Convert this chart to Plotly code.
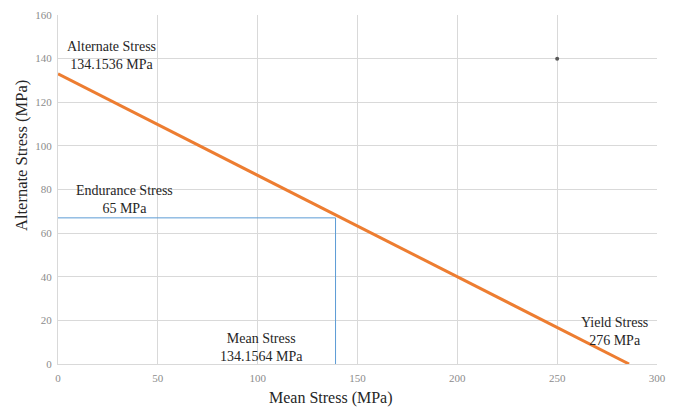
import plotly.graph_objects as go

# Data
goodman_x = [0, 286]
goodman_y = [133, 0]
endurance_x = [0, 139]
endurance_y = [67, 67]
mean_x = [139, 139]
mean_y = [0, 67]
point_x = [250]
point_y = [140]

x_ticks = [0, 50, 100, 150, 200, 250, 300]
y_ticks = [0, 20, 40, 60, 80, 100, 120, 140, 160]

annotations_text = [
    ("Alternate Stress<br>134.1536 MPa", 27, 141.5),
    ("Endurance Stress<br>65 MPa", 33.5, 75.5),
    ("Mean Stress<br>134.1564 MPa", 102, 7.5),
    ("Yield Stress<br>276 MPa", 278.5, 15),
]

serif = "Liberation Serif, Times New Roman, serif"

# page has an 8px body margin; size the figure to fit the window
OFF = 8
W, H = 676 - OFF, 410 - OFF
L, T = 58 - OFF, 15 - OFF
R, B = 19, 46
pw, ph = W - L - R, H - T - B


def px_to_paper(px, py):
    return (px - 58) / pw, (364 - py) / ph


fig = go.Figure()
fig.add_trace(go.Scatter(x=endurance_x, y=endurance_y, mode="lines",
                         line=dict(color="#5B9BD5", width=1), showlegend=False))
fig.add_trace(go.Scatter(x=mean_x, y=mean_y, mode="lines",
                         line=dict(color="#5B9BD5", width=1), showlegend=False))
fig.add_trace(go.Scatter(x=goodman_x, y=goodman_y, mode="lines",
                         line=dict(color="#ED7D31", width=3), showlegend=False))
fig.add_trace(go.Scatter(x=point_x, y=point_y, mode="markers",
                         marker=dict(color="#595959", size=4, symbol="circle"),
                         showlegend=False))

for text, x, y in annotations_text:
    fig.add_annotation(x=x, y=y, text=text, showarrow=False,
                       xanchor="center", yanchor="middle",
                       font=dict(family=serif, size=14, color="#262626"),
                       align="center")

ax, ay = px_to_paper(331, 398)
fig.add_annotation(x=ax, y=ay, xref="paper", yref="paper", text="Mean Stress (MPa)",
                   showarrow=False, xanchor="center", yanchor="middle",
                   font=dict(family=serif, size=16, color="#262626"))
tx, ty = px_to_paper(21, 156)
fig.add_annotation(x=tx, y=ty, xref="paper", yref="paper", text="Alternate Stress (MPa)",
                   textangle=-90, showarrow=False, xanchor="center", yanchor="middle",
                   font=dict(family=serif, size=16.5, color="#262626"))

fig.update_layout(
    width=W, height=H,
    margin=dict(l=L, r=R, t=T, b=B),
    paper_bgcolor="white", plot_bgcolor="white",
    font=dict(family=serif),
)

fig.update_xaxes(range=[0, 300], tickvals=x_ticks, showgrid=True,
                 gridcolor="#D9D9D9", gridwidth=1, zeroline=False,
                 showline=True, linecolor="#D9D9D9", automargin=False,
                 ticks="", ticklabelstandoff=4,
                 tickfont=dict(family=serif, size=11, color="#8C8C8C"))
fig.update_yaxes(range=[0, 160], tickvals=y_ticks, showgrid=True,
                 gridcolor="#D9D9D9", gridwidth=1, zeroline=False,
                 showline=True, linecolor="#D9D9D9", automargin=False,
                 ticks="", ticklabelstandoff=3,
                 tickfont=dict(family=serif, size=11, color="#8C8C8C"))

fig.write_html("out.html")
